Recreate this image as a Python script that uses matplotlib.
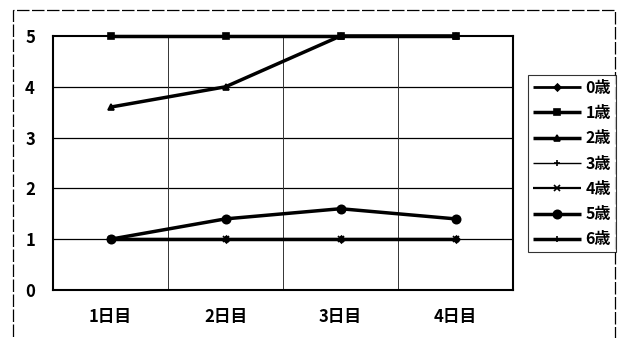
import matplotlib
matplotlib.use("Agg")
import matplotlib.pyplot as plt
from matplotlib.patches import Rectangle

plt.rcParams['font.family'] = ['Noto Sans CJK JP', 'DejaVu Sans']

categories = ["1日目", "2日目", "3日目", "4日目"]
series_names = ["0歳", "1歳", "2歳", "3歳", "4歳", "5歳", "6歳"]
s0 = [1, 1, 1, 1]
s1 = [5, 5, 5, 5]
s2 = [3.6, 4, 5, 5]
s3 = [5, 5, 5, 5]
s4 = [1, 1, 1, 1]
s5 = [1, 1.4, 1.6, 1.4]
s6 = [1, 1, 1, 1]
yticks = [0, 1, 2, 3, 4, 5]

series = [s0, s1, s2, s3, s4, s5, s6]
markers = ['D', 's', '^', '+', 'x', 'o', '|']
msizes = [3.5, 5, 5, 4, 4, 6, 5]
lwidths = [2.0, 2.5, 2.5, 1.0, 1.6, 2.5, 2.5]
zorders = [3, 5, 4, 2, 2, 4, 3]

fig = plt.figure(figsize=(6.18, 3.38), dpi=100)
ax = fig.add_axes([53/618, 1-290/338, 460/618, 254/338])

x = list(range(len(categories)))
handles = []
for name, vals, m, ms, lw, z in zip(series_names, series, markers, msizes, lwidths, zorders):
    h, = ax.plot(x, vals, color='black', marker=m, markersize=ms, linewidth=lw,
                 label=name, markeredgewidth=1.2, solid_capstyle='butt', zorder=z,
                 clip_on=False)
    handles.append(h)

ax.set_xlim(-0.5, len(categories) - 0.5)
ax.set_ylim(0, 5)
ax.set_yticks(yticks)
ax.set_yticklabels([str(v) for v in yticks], fontsize=12, fontweight='bold')
ax.set_xticks(x)
ax.set_xticklabels(categories, fontsize=12, fontweight='bold')
ax.tick_params(axis='both', length=0)
ax.tick_params(axis='x', pad=13)
ax.tick_params(axis='y', pad=13)

# gridlines
for yv in yticks[1:-1]:
    ax.axhline(yv, color='black', linewidth=0.9, zorder=0)
for xb in [0.5, 1.5, 2.5]:
    ax.axvline(xb, color='#333333', linewidth=0.7, zorder=0)
for sp in ax.spines.values():
    sp.set_linewidth(1.5)
    sp.set_color('black')

leg = fig.legend(handles=handles, labels=series_names, loc='upper left',
                 bbox_to_anchor=(528/618, 1-75/338), frameon=True, fancybox=False,
                 edgecolor='black', prop={'weight': 'bold', 'size': 11.5},
                 handlelength=3.0, handletextpad=0.3, labelspacing=0.58,
                 borderpad=0.3, borderaxespad=0)
leg.get_frame().set_linewidth(0.8)

# outer chart border
fig.patches.append(Rectangle((13/618, -0.1), 602/618, 1.1 - 10/338,
                             transform=fig.transFigure, fill=False,
                             edgecolor='black', linewidth=0.9,
                             linestyle=(0, (10, 2))))

fig.savefig("out.png", dpi=100)
